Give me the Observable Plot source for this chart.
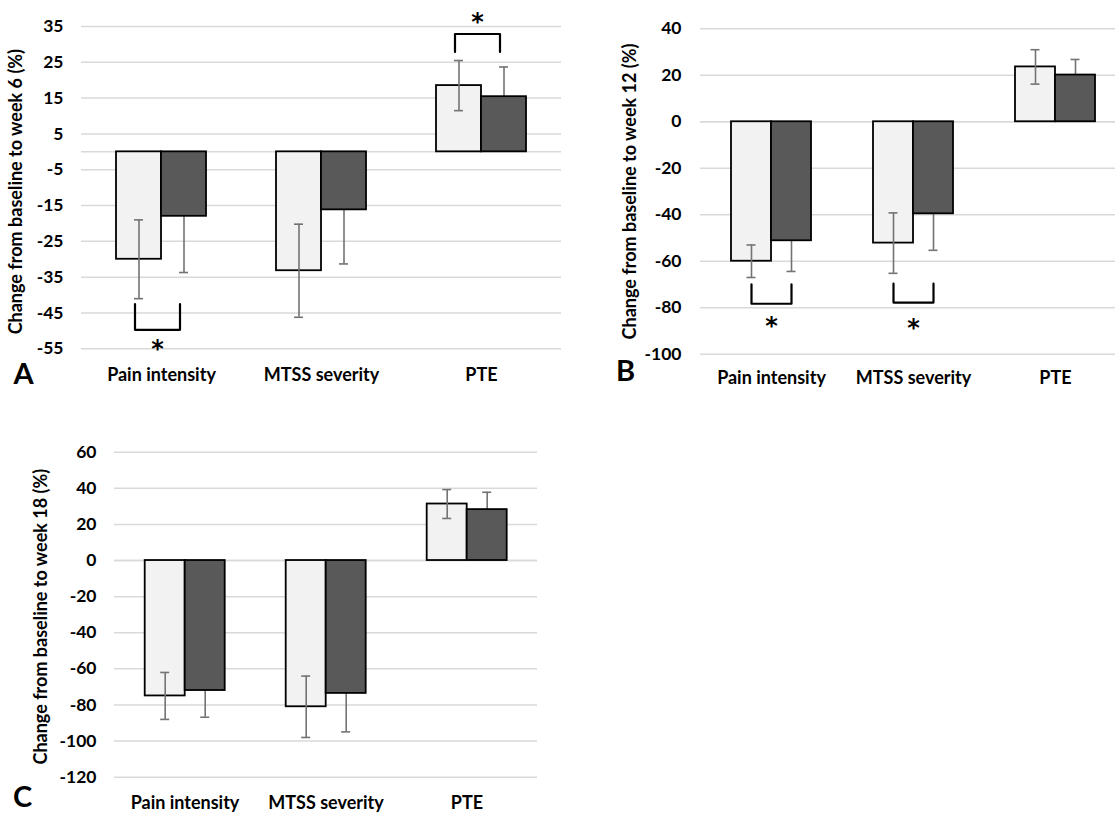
<!DOCTYPE html>
<html><head><meta charset="utf-8">
<script src="https://cdn.jsdelivr.net/npm/d3@7"></script>
<script src="https://cdn.jsdelivr.net/npm/@observablehq/plot@0.6"></script>
<style>
html,body{margin:0;padding:0;background:#fff;overflow:hidden;}
#root{position:relative;width:1115px;height:813px;overflow:hidden;background:#fff;}
#root svg{position:absolute;}
</style></head><body><div id="root"></div>
<script>
// ---- data ----
const categories = ["Pain intensity", "MTSS severity", "PTE"];
const seriesNames = ["Group 1", "Group 2"]; // light bars, dark bars

// Panel A: baseline to week 6
const week6Light = [-30, -33.2, 18.5];
const week6LightErr = [11, 13, 7];
const week6Dark = [-18, -16.2, 15.4];
const week6DarkErr = [15.7, 15.1, 8.3];
const ticksA = [35, 25, 15, 5, -5, -15, -25, -35, -45, -55];
const sigA = [
  {cat: "Pain intensity", end: -42.5, bar: -49.7, star: -53.3},
  {cat: "PTE", end: 27.9, bar: 32.9, star: 38}
];

// Panel B: baseline to week 12
const week12Light = [-60, -52.2, 23.6];
const week12LightErr = [7, 13, 7.4];
const week12Dark = [-51.2, -39.6, 20.1];
const week12DarkErr = [13.2, 15.7, 6.7];
const ticksB = [40, 20, 0, -20, -40, -60, -80, -100];
const sigB = [
  {cat: "Pain intensity", end: -69.9, bar: -78.3, star: -85},
  {cat: "MTSS severity", end: -69.6, bar: -77.8, star: -86}
];

// Panel C: baseline to week 18
const week18Light = [-75, -81, 31.3];
const week18LightErr = [13, 17, 8];
const week18Dark = [-72, -73.6, 28.2];
const week18DarkErr = [14.8, 21.3, 9.6];
const ticksC = [60, 40, 20, 0, -20, -40, -60, -80, -100, -120];
const sigC = [];

const yLabels = [
  "Change from baseline to week 6 (%)",
  "Change from baseline to week 12 (%)",
  "Change from baseline to week 18 (%)"
];
const panelLetters = ["A", "B", "C"];

// ---- drawing ----
const FONT = "Lato, 'Open Sans', sans-serif";
const lightFill = "#f2f2f2", darkFill = "#595959", errColor = "#737373", gridColor = "#d9d9d9";

function panel(cfg) {
  const rows = categories.flatMap((c, i) => [
    {cat: c, group: seriesNames[0], value: cfg.light[i], err: cfg.lightErr[i]},
    {cat: c, group: seriesNames[1], value: cfg.dark[i], err: cfg.darkErr[i]}
  ]);
  const lightRows = rows.filter(d => d.group === seriesNames[0]);
  const darkRows = rows.filter(d => d.group === seriesNames[1]);
  const bracketPts = cfg.sig.flatMap((s, k) => [
    {id: k, cat: s.cat, group: seriesNames[0], y: s.end},
    {id: k, cat: s.cat, group: seriesNames[0], y: s.bar},
    {id: k, cat: s.cat, group: seriesNames[1], y: s.bar},
    {id: k, cat: s.cat, group: seriesNames[1], y: s.end}
  ]);
  const errMarks = (data) => [
    Plot.ruleX(data, {fx: "cat", x: "group", y1: d => d.value - d.err, y2: d => d.value + d.err, stroke: errColor, strokeWidth: 1.6}),
    Plot.tickY(data, {fx: "cat", x: "group", y: d => d.value - d.err, stroke: errColor, strokeWidth: 1.6, insetLeft: cfg.capInset, insetRight: cfg.capInset}),
    Plot.tickY(data, {fx: "cat", x: "group", y: d => d.value + d.err, stroke: errColor, strokeWidth: 1.6, insetLeft: cfg.capInset, insetRight: cfg.capInset})
  ];
  const svg = Plot.plot({
    width: cfg.width, height: cfg.height,
    marginLeft: cfg.marginLeft, marginRight: 0, marginTop: cfg.marginTop, marginBottom: cfg.marginBottom,
    style: {fontFamily: FONT, fontSize: "16px", fontWeight: "bold", color: "#000", background: "transparent", overflow: "visible"},
    fx: {domain: categories, padding: 0, label: null},
    x: {domain: seriesNames, paddingInner: 0, paddingOuter: 0.74, axis: null},
    y: {domain: cfg.domain, label: null},
    marks: [
      Plot.gridY(cfg.ticks, {stroke: gridColor, strokeOpacity: 1, strokeWidth: 1.5}),
      Plot.ruleY([0], {stroke: gridColor, strokeWidth: 1.5}),
      ...errMarks(darkRows),
      Plot.barY(lightRows, {fx: "cat", x: "group", y: "value", fill: lightFill, stroke: "#000", strokeWidth: 1.8}),
      Plot.barY(darkRows, {fx: "cat", x: "group", y: "value", fill: darkFill, stroke: "#000", strokeWidth: 1.8}),
      ...errMarks(lightRows),
      Plot.line(bracketPts, {fx: "cat", x: "group", y: "y", z: "id", stroke: "#000", strokeWidth: 2.2, dx: cfg.bracketDx}),
      Plot.text(cfg.sig, {fx: "cat", y: "star", text: () => "*", fontFamily: "DejaVu Sans", fontSize: 24, fontWeight: "bold", dx: cfg.bracketDx, dy: 7, fill: "#000"}),
      Plot.axisY({ticks: cfg.ticks, tickFormat: d => String(d), tickSize: 0, tickPadding: cfg.tickPadding, label: null, fontSize: 17.5, fontWeight: "bold", fill: "#000"}),
      Plot.axisFx({anchor: "bottom", tickSize: 0, tickPadding: cfg.fxPadding, label: null, fontSize: 18, fontWeight: "bold", fill: "#000"}),
      Plot.text([cfg.yLabel], {text: d => d, frameAnchor: "left", textAnchor: "middle", lineAnchor: "middle", rotate: -90, dx: cfg.labelDx, dy: cfg.labelDy, fontSize: 18, fontWeight: "bold", fill: "#000", facetAnchor: "left"}),
      Plot.text([cfg.letter], {text: d => d, frameAnchor: "bottom-left", textAnchor: "middle", lineAnchor: "middle", dx: cfg.letterDx, dy: cfg.letterDy, fontSize: 29, fontWeight: "bold", fill: "#000", facetAnchor: "left"})
    ]
  });
  svg.style.left = cfg.left + "px";
  svg.style.top = cfg.top + "px";
  document.getElementById("root").appendChild(svg);
}

panel({
  left: 0, top: 0, width: 561, height: 395, marginLeft: 80, marginTop: 26, marginBottom: 46.7,
  domain: [-55, 35], ticks: ticksA, light: week6Light, lightErr: week6LightErr, dark: week6Dark, darkErr: week6DarkErr,
  sig: sigA, bracketDx: -4, capInset: 18, tickPadding: 18, fxPadding: 19,
  yLabel: yLabels[0], labelDx: -65, labelDy: 4, letter: panelLetters[0], letterDx: -58, letterDy: 26
});
panel({
  left: 560, top: 0, width: 566, height: 400, marginLeft: 140, marginTop: 28.3, marginBottom: 46.3,
  domain: [-100, 40], ticks: ticksB, light: week12Light, lightErr: week12LightErr, dark: week12Dark, darkErr: week12DarkErr,
  sig: sigB, bracketDx: 0, capInset: 15.5, tickPadding: 19, fxPadding: 17,
  yLabel: yLabels[1], labelDx: -70, labelDy: 0, letter: panelLetters[1], letterDx: -75, letterDy: 18
});
panel({
  left: 0, top: 420, width: 538.3, height: 393, marginLeft: 113.3, marginTop: 31.7, marginBottom: 36.3,
  domain: [-120, 60], ticks: ticksC, light: week18Light, lightErr: week18LightErr, dark: week18Dark, darkErr: week18DarkErr,
  sig: sigC, bracketDx: 0, capInset: 15.5, tickPadding: 18, fxPadding: 19,
  yLabel: yLabels[2], labelDx: -73, labelDy: 2, letter: panelLetters[2], letterDx: -92, letterDy: 21
});
</script></body></html>
